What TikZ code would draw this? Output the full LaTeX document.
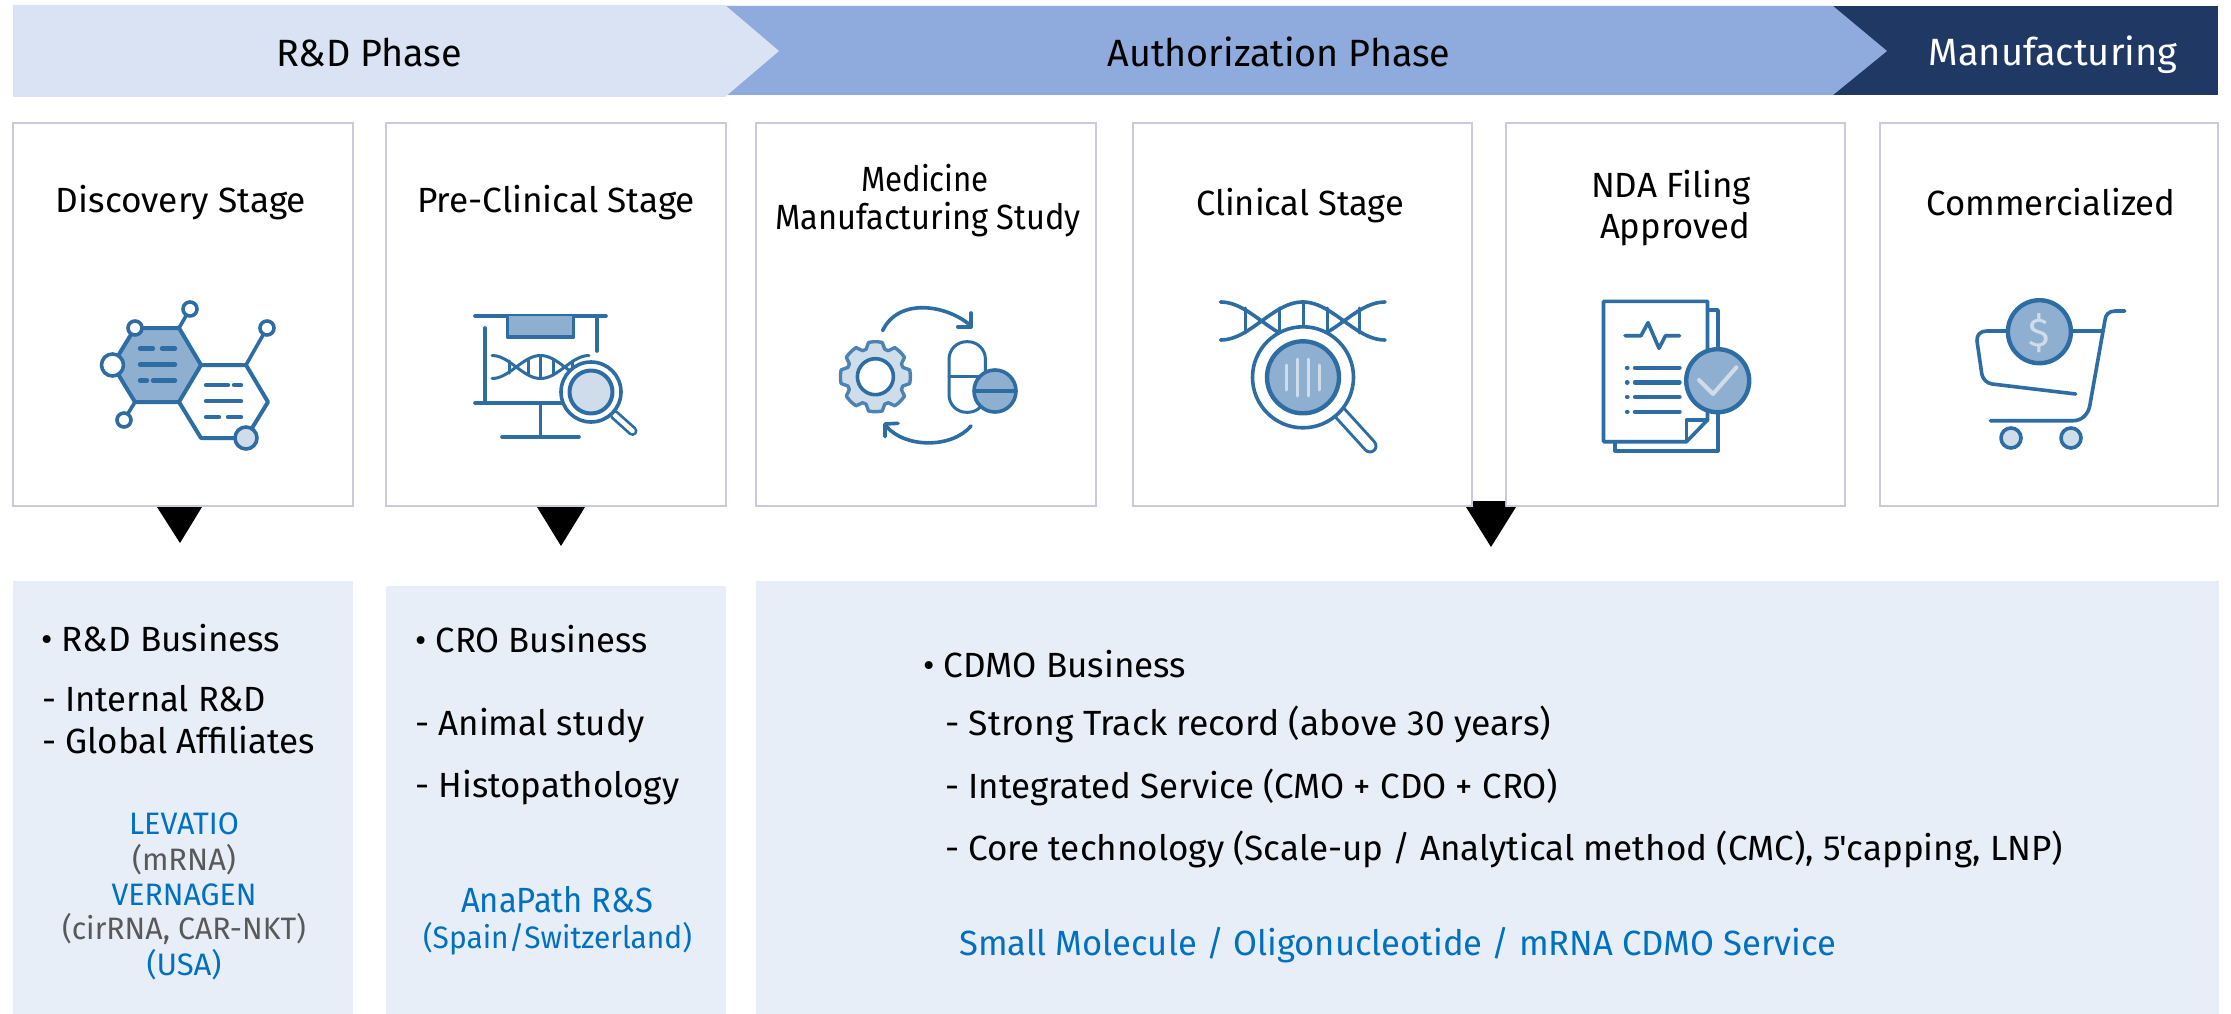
\documentclass[tikz,border=0pt]{standalone}
\usepackage{fontspec}
\usepackage{graphicx}
\newfontfamily\bodyf{Fira Sans}
\definecolor{phaseA}{HTML}{DAE3F3}
\definecolor{phaseB}{HTML}{8FAADC}
\definecolor{phaseC}{HTML}{203864}
\definecolor{panel}{HTML}{E8EEF7}
\definecolor{boxline}{HTML}{C9CADB}
\definecolor{linkblue}{HTML}{0070C0}
\definecolor{subgray}{HTML}{595959}
\definecolor{ico}{HTML}{2E6DA4}
\definecolor{icomid}{HTML}{8FAFD0}
\definecolor{icolight}{HTML}{CFDCEA}
\newsavebox\fwbox
\newcommand\fw[2]{\sbox\fwbox{#2}\pgfmathsetmacro\fwr{#1/\wd\fwbox}\scalebox{\fwr}[1]{\usebox\fwbox}}
\newcommand\fsA{\bodyf\fontsize{38}{42}\selectfont}
\newcommand\fsB{\bodyf\fontsize{35}{40}\selectfont}
\newcommand\fsC{\bodyf\fontsize{35}{40}\selectfont}
\newcommand\fsD{\bodyf\fontsize{31}{36}\selectfont}
\tikzset{
  x=1pt,y=-1pt,
  stagebox/.style={draw=boxline,line width=2pt,fill=white},
  panelbox/.style={fill=panel},
  tip/.style={fill=black},
  tc/.style={anchor=base,inner sep=0pt},
  tl/.style={anchor=base west,inner sep=0pt},
  hd/.style={tc,font=\fsA},
  stg/.style={tc,font=\fsB},
  item/.style={tl,font=\fsC,text=black},
  sm/.style={tc,font=\fsD},
  ic/.style={draw=ico,line width=3.6pt,line cap=round,line join=round},
  icthin/.style={draw=ico,line width=3pt,line cap=round,line join=round},
  dsh/.style={draw=ico,line width=4.4pt,line cap=round},
}
\begin{document}
\begin{tikzpicture}
\useasboundingbox (0,0) rectangle (2231,1014);
\fill[white] (0,0) rectangle (2231,1014);
% phase band
\fill[phaseC] (1832,6) -- (2218,6) -- (2218,95) -- (1832,95) -- cycle;
\fill[phaseB] (725,6) -- (1833,6) -- (1887,51) -- (1833,95) -- (725,95) -- cycle;
\fill[phaseA] (13,5) -- (725,5) -- (779,51) -- (725,97) -- (13,97) -- cycle;
\node[hd] (phase1) at (369,67) {\fw{186}{R\&D Phase}};
\node[hd] (phase2) at (1279,67) {\fw{343}{Authorization Phase}};
\node[hd,text=white] (phase3) at (2053,66) {\fw{249}{Manufacturing}};
% stage boxes
\draw[stagebox] (13,123) rectangle (353,506);
\draw[stagebox] (386,123) rectangle (726,506);
\draw[stagebox] (756,123) rectangle (1096,506);
\draw[stagebox] (1133,123) rectangle (1472,506);
\draw[stagebox] (1506,123) rectangle (1845,506);
\draw[stagebox] (1879.5,123) rectangle (2218,506);
\node[stg] (s1) at (181,212) {\fw{250}{Discovery Stage}};
\node[stg] (s2) at (556,212) {\fw{278}{Pre-Clinical Stage}};
\node[stg] (s3a) at (925,191.5) {\fw{128}{Medicine}};
\node[stg] (s3b) at (928,229.5) {\fw{306}{Manufacturing Study}};
\node[stg] (s4) at (1300,215.5) {\fw{208}{Clinical Stage}};
\node[stg] (s5a) at (1671,197.5) {\fw{160}{NDA Filing}};
\node[stg] (s5b) at (1675,238.5) {\fw{150}{Approved}};
\node[stg] (s6) at (2051,215) {\fw{249}{Commercialized}};
% pointers
\fill[tip] (157,507) -- (202,507) -- (180,543) -- cycle;
\fill[tip] (537,507) -- (585,507) -- (561,546) -- cycle;
\fill[tip] (1473,501) -- (1505,501) -- (1505,507) -- (1516,507) -- (1491,547) -- (1466,507) -- (1473,507) -- cycle;
% panels
\fill[panelbox] (13,581) rectangle (353,1014);
\fill[panelbox] (386,586) rectangle (726,1014);
\fill[panelbox] (756,581) rectangle (2219,1014);
\node[item] (p1a) at (41,651.5) {\fw{239}{• R\&D Business}};
\node[item] (p1b) at (42,711) {\fw{224}{- Internal R\&D}};
\node[item] (p1c) at (42,753) {\fw{273}{- Global Affiliates}};
\node[sm,text=linkblue] (p1d) at (184,834.5) {\fw{110}{LEVATIO}};
\node[sm,text=subgray] (p1e) at (184,870.5) {\fw{104}{(mRNA)}};
\node[sm,text=linkblue] (p1f) at (184,905.5) {\fw{145}{VERNAGEN}};
\node[sm,text=subgray] (p1g) at (184,939.5) {\fw{244}{(cirRNA, CAR-NKT)}};
\node[sm,text=linkblue] (p1h) at (184,975.5) {\fw{75}{(USA)}};
\node[item] (p2a) at (415,652.5) {\fw{232}{• CRO Business}};
\node[item] (p2b) at (415,735.5) {\fw{229}{- Animal study}};
\node[item] (p2c) at (415,797.5) {\fw{264}{- Histopathology}};
\node[tc,font=\fsC,text=linkblue] (p2d) at (557,912.5) {\fw{192}{AnaPath R\&S}};
\node[sm,text=linkblue] (p2e) at (557.5,948.5) {\fw{269}{(Spain/Switzerland)}};
\node[item] (p3a) at (923,677.5) {\fw{263}{• CDMO Business}};
\node[item] (p3b) at (945,735.5) {\fw{606}{- Strong Track record (above 30 years)}};
\node[item] (p3c) at (945,798.5) {\fw{613}{- Integrated Service (CMO + CDO + CRO)}};
\node[item] (p3d) at (945,860.5) {\fw{1118}{- Core technology (Scale-up / Analytical method (CMC), 5'capping, LNP)}};
\node[item,text=linkblue] (p3e) at (959,955.5) {\fw{877}{Small Molecule / Oligonucleotide / mRNA CDMO Service}};
% icon 1: molecule
\draw[ic,line width=4pt,fill=icomid] (135,328) -- (179,328) -- (201,365) -- (179,402) -- (135,402) -- (112.5,365) -- cycle;
\draw[ic,line width=4pt] (201,365) -- (246,365) -- (268,402) -- (246,438) -- (201,438) -- (179,402);
\draw[ic] (179,328) -- (190,309);
\draw[ic] (246,365) -- (267,328);
\draw[ic] (135,402) -- (124,420);
\draw[ic,fill=white] (112.5,365) circle[radius=11];
\draw[ic,fill=white] (135,328) circle[radius=7];
\draw[ic,fill=white] (190,309) circle[radius=7];
\draw[ic,fill=white] (267,328) circle[radius=7];
\draw[ic,fill=white] (124,420) circle[radius=7];
\draw[ic,fill=icolight] (246,438) circle[radius=11];
\draw[dsh] (140,348.5) -- (153,348.5) (162,348.5) -- (175,348.5);
\draw[dsh] (140,364.5) -- (175,364.5);
\draw[dsh] (140,380.5) -- (147,380.5) (153,380.5) -- (175,380.5);
\draw[dsh] (206,385) -- (228,385) (234,385) -- (241,385);
\draw[dsh] (206,401) -- (241,401);
\draw[dsh] (206,417) -- (219,417) (228,417) -- (241,417);
% icon 2: presentation board
\draw[ic] (475,316) -- (606,316);
\draw[ic,fill=icomid] (507.5,316) -- (507.5,337) -- (573.5,337) -- (573.5,316);
\draw[ic] (597,316) -- (597,351);
\draw[ic] (485,328) -- (485,403);
\draw[ic] (475,403) -- (565,403);
\draw[ic] (540.5,403) -- (540.5,437);
\draw[ic] (502,437) -- (579,437);
\draw[icthin] plot[domain=492:589,samples=40,smooth] (\x,{367-11.5*cos(3.7113*(\x-492))});
\draw[icthin] plot[domain=492:589,samples=40,smooth] (\x,{367+11.5*cos(3.7113*(\x-492))});
\foreach \rx/\ry in {509/6,528/8,540.5/11.5,553/8,572/6}
  \draw[icthin] (\rx,367-\ry) -- (\rx,367+\ry);
\draw[ico,line width=10pt,line cap=round] (614.6,415) -- (632.5,431);
\draw[white,line width=4.5pt,line cap=round] (614.6,415) -- (632.5,431);
\draw[ic,fill=white] (591,392) circle[radius=30];
\draw[ic,line width=4pt,fill=icolight] (591,392) circle[radius=21.5];
% icon 3: gear and capsule
\draw[draw=ico!85!white,line width=3.4pt,line join=round,fill=icolight]
  plot[samples at={0,1,...,47}] ({875.4+(mod(\x,6)<4?35:29)*cos((\x-1.5)*7.5-90)},{376.7+(mod(\x,6)<4?35:29)*sin((\x-1.5)*7.5-90)}) -- cycle;
\draw[ic,fill=icolight!60!white] (875.4,376.7) circle[radius=0.1];
\draw[ic,fill=white] (875.4,376.7) circle[radius=18];
\draw[icthin,rounded corners=17.5] (949,341.7) rectangle (985.4,412.3);
\draw[icthin] (949,376.7) -- (985.4,376.7);
\draw[ic,fill=icomid] (995,391) circle[radius=21];
\draw[ico,line width=4pt] (974,391) -- (1016,391);
\draw[ic] (882.6,330.7) .. controls (898,298) and (945,304) .. (970,325);
\draw[ic] (971,313) -- (971,326.7) -- (957.8,326.7);
\draw[ic] (971,426) .. controls (952,448.5) and (905,448.5) .. (886,426);
\draw[ic] (898,423.3) -- (885,424) -- (885,436.7);
% icon 4: DNA and magnifier
\draw[ic] plot[domain=1220.5:1385,samples=50,smooth] (\x,{321-19*cos(2.18845*(\x-1220.5))});
\draw[ic] plot[domain=1220.5:1385,samples=50,smooth] (\x,{321+19*cos(2.18845*(\x-1220.5))});
\draw[icthin] (1245.7,308) -- (1245.7,333);
\draw[icthin] (1279.7,308) -- (1279.7,332);
\draw[icthin] (1303,302) -- (1303,327);
\draw[icthin] (1327,308) -- (1327,332);
\draw[icthin] (1359.6,308) -- (1359.6,333);
\draw[ico,line width=15pt,line cap=round] (1340,413) -- (1370,446);
\draw[white,line width=9pt,line cap=round] (1340,413) -- (1370,446);
\draw[ic,fill=white] (1303,377.3) circle[radius=50.5];
\draw[ic,line width=4.4pt,fill=icomid] (1303,377.3) circle[radius=36];
\foreach \sx/\sa/\sb in {1286/365/390,1297/359/396,1308/359/396,1319/365/390}
  \draw[icolight,line width=3pt,line cap=round] (\sx,\sa) -- (\sx,\sb);
% icon 5: document
\draw[ic,fill=white] (1707.5,310) -- (1718,310) -- (1718,450.7) -- (1615,450.7) -- (1615,441.7);
\draw[ic,fill=white] (1603.5,301.3) -- (1707.5,301.3) -- (1707.5,420) -- (1686.5,441.7) -- (1603.5,441.7) -- cycle;
\draw[ic] (1707.5,420) -- (1686.5,420) -- (1686.5,441.7);
\draw[ic] (1625,335.7) -- (1641,335.7) -- (1648,322.7) -- (1659,348.3) -- (1665.5,335.7) -- (1679.5,335.7);
\foreach \ly in {367.7,382.3,397,411.7}{
  \draw[dsh] (1627,\ly) -- (1627.4,\ly);
  \draw[dsh] (1635,\ly) -- (1679.5,\ly);
}
\draw[ic,line width=4.4pt,fill=icomid] (1717.7,380.7) circle[radius=31.5];
\draw[icolight,line width=4pt,line cap=round,line join=round] (1699,380) -- (1713,394) -- (1736.4,367.3);
% icon 6: cart
\draw[ic] (2006.8,331) -- (1987,331) .. controls (1980,331) and (1976.6,335) .. (1977,341) -- (1981.5,372) .. controls (1982.5,380) and (1987,383) .. (1992,384) -- (2075.7,394);
\draw[ic] (2071,331) -- (2102.8,331);
\draw[ic] (2124.7,311) -- (2115.4,311) .. controls (2108.5,311) and (2105.5,315) .. (2105,320) -- (2089.7,406) .. controls (2088,415) and (2081,420.7) .. (2073.4,420.7) -- (1990.4,420.7);
\draw[ic,fill=icolight] (2011,438) circle[radius=10];
\draw[ic,fill=icolight] (2071,438) circle[radius=10];
\draw[ic,line width=4.4pt,fill=icomid] (2039.4,331.7) circle[radius=31.5];
\node[tc,font=\bodyf\fontsize{40}{44}\selectfont,text=icolight] (dollar) at (2039.4,346) {\$};
\end{tikzpicture}
\end{document}
